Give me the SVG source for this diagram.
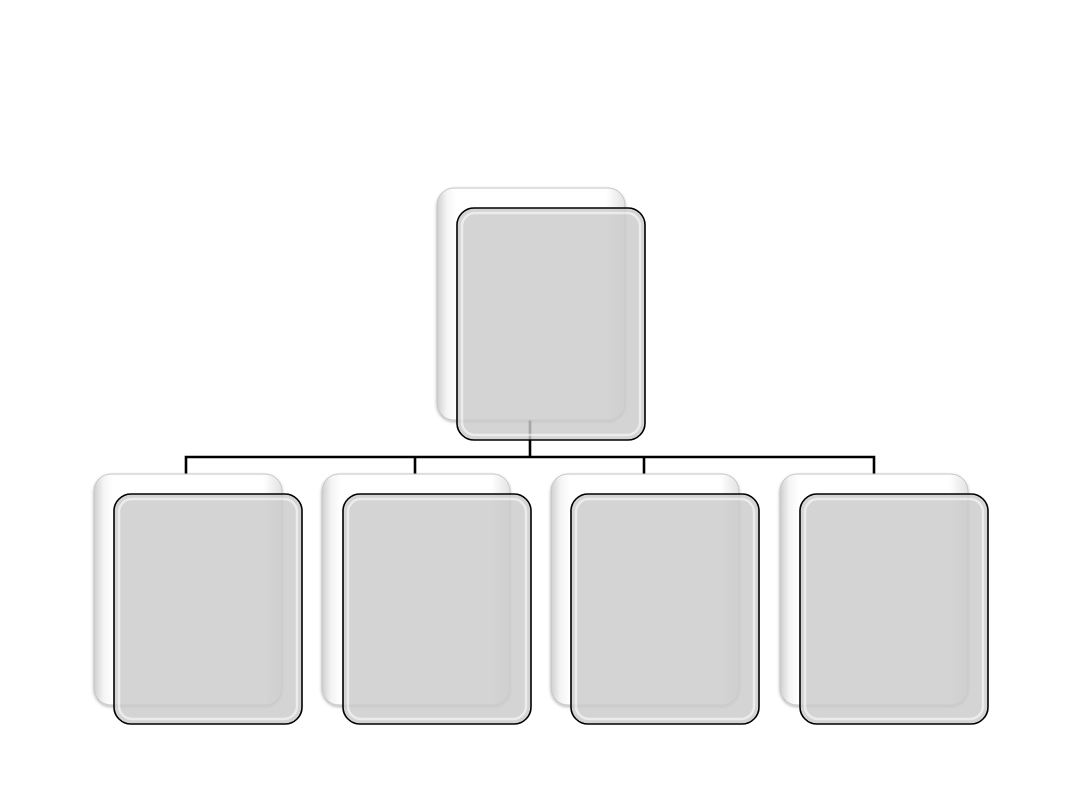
<svg xmlns="http://www.w3.org/2000/svg" width="1080" height="810" viewBox="0 0 1080 810">
<defs>
<style>
.back{fill:url(#backGrad);stroke:#c4c4c4;stroke-width:1}
.front{fill:#cbcbcb;fill-opacity:0.82;stroke:#000;stroke-width:1.6}
.frontIn{fill:none;stroke:#ffffff;stroke-opacity:0.55;stroke-width:2.5}
.conn{fill:none;stroke:#000;stroke-width:2.6}
</style>
<linearGradient id="backGrad" x1="0" y1="0" x2="1" y2="0">
<stop offset="0" stop-color="#cfcfcf"/>
<stop offset="0.05" stop-color="#f4f4f4"/>
<stop offset="0.1" stop-color="#ffffff"/>
<stop offset="0.9" stop-color="#ffffff"/>
<stop offset="1" stop-color="#e2e2e2"/>
</linearGradient>
<filter id="sh" x="-10%" y="-10%" width="120%" height="120%">
<feDropShadow dx="0" dy="1.5" stdDeviation="1.5" flood-color="#000" flood-opacity="0.3"/>
</filter>
</defs>
<rect width="1080" height="810" fill="#fff"/>
<g id="connectors">
<path class="conn" d="M530,420 V457"/>
<path class="conn" d="M186,474 V457 H874 V474"/>
<path class="conn" d="M415,457 V474"/>
<path class="conn" d="M644,457 V474"/>
</g>
<g id="node-top">
<rect class="back" filter="url(#sh)" x="437" y="188" width="188" height="232" rx="17"/>
<rect class="front" x="457" y="208" width="188" height="232" rx="17"/>
<rect class="frontIn" x="462" y="213" width="178" height="222" rx="13"/>
</g>
<g id="node-1">
<rect class="back" filter="url(#sh)" x="94" y="474" width="188" height="231" rx="17"/>
<rect class="front" x="114" y="494" width="188" height="230" rx="17"/>
<rect class="frontIn" x="119" y="499" width="178" height="220" rx="13"/>
</g>
<g id="node-2">
<rect class="back" filter="url(#sh)" x="322" y="474" width="188" height="231" rx="17"/>
<rect class="front" x="343" y="494" width="188" height="230" rx="17"/>
<rect class="frontIn" x="348" y="499" width="178" height="220" rx="13"/>
</g>
<g id="node-3">
<rect class="back" filter="url(#sh)" x="551" y="474" width="188" height="231" rx="17"/>
<rect class="front" x="571" y="494" width="188" height="230" rx="17"/>
<rect class="frontIn" x="576" y="499" width="178" height="220" rx="13"/>
</g>
<g id="node-4">
<rect class="back" filter="url(#sh)" x="780" y="474" width="188" height="231" rx="17"/>
<rect class="front" x="800" y="494" width="188" height="230" rx="17"/>
<rect class="frontIn" x="805" y="499" width="178" height="220" rx="13"/>
</g>
</svg>
